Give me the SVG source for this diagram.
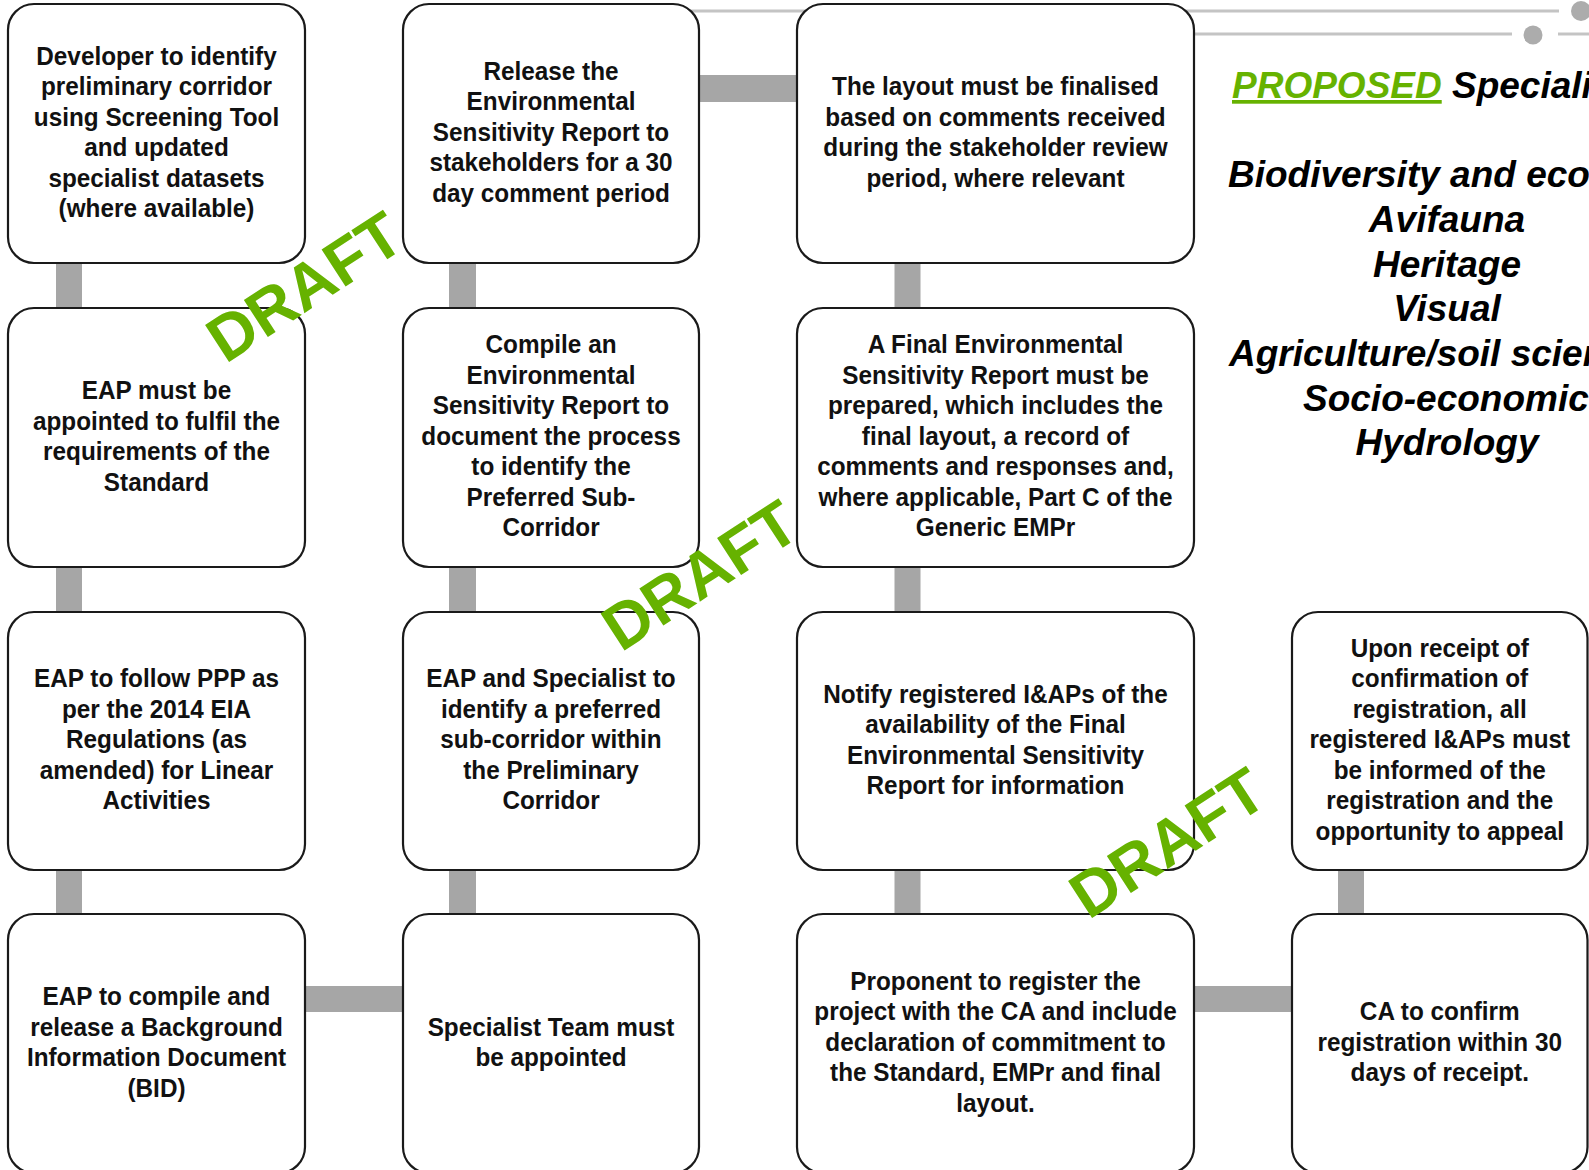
<svg xmlns="http://www.w3.org/2000/svg" width="1589" height="1170" viewBox="0 0 1589 1170">
<style>
.box{fill:#fff;stroke:#1a1a1a;stroke-width:2.2}
.t{font-family:"Liberation Sans",Arial,sans-serif;font-weight:bold;font-size:25.6px;fill:#111;text-anchor:middle}
.conn{stroke:#a6a6a6;fill:none}
.deco{stroke:#c4c4c4;stroke-width:3;fill:none}
.dot{fill:#acacac}
.draft{font-family:"Liberation Sans",Arial,sans-serif;font-weight:bold;font-size:64px;fill:#66b200;text-anchor:middle}
.hd{font-family:"Liberation Sans",Arial,sans-serif;font-weight:bold;font-style:italic;font-size:37px;fill:#000}
</style>
<rect width="1589" height="1170" fill="#fff"/>
<g id="decoration">
<line class="deco" x1="600" y1="11" x2="1559" y2="11"/>
<circle class="dot" cx="1581" cy="11" r="10"/>
<line class="deco" x1="1150" y1="34" x2="1512" y2="34"/>
<circle class="dot" cx="1533" cy="35" r="9.5"/>
<line class="deco" x1="1558" y1="34" x2="1589" y2="34"/>
</g>
<g id="connectors">
<line class="conn" stroke-width="26" x1="69" y1="250" x2="69" y2="320"/>
<line class="conn" stroke-width="26" x1="69" y1="555" x2="69" y2="625"/>
<line class="conn" stroke-width="26" x1="69" y1="858" x2="69" y2="926"/>
<line class="conn" stroke-width="27" x1="462.5" y1="250" x2="462.5" y2="320"/>
<line class="conn" stroke-width="27" x1="462.5" y1="555" x2="462.5" y2="625"/>
<line class="conn" stroke-width="27" x1="462.5" y1="858" x2="462.5" y2="926"/>
<line class="conn" stroke-width="26" x1="907.5" y1="250" x2="907.5" y2="320"/>
<line class="conn" stroke-width="26" x1="907.5" y1="555" x2="907.5" y2="625"/>
<line class="conn" stroke-width="26" x1="907.5" y1="858" x2="907.5" y2="926"/>
<line class="conn" stroke-width="26" x1="1351" y1="858" x2="1351" y2="926"/>
<line class="conn" stroke-width="26" x1="295" y1="999" x2="413" y2="999"/>
<line class="conn" stroke-width="27" x1="689" y1="88.5" x2="807" y2="88.5"/>
<line class="conn" stroke-width="26" x1="1184" y1="999" x2="1302" y2="999"/>
</g>
<g id="n-c1r1"><rect class="box" x="8" y="4" width="297" height="259" rx="26"/>
<g transform="translate(156.5 -1.5) scale(0.95 1)"><text class="t" y="66.1"><tspan x="0">Developer to identify</tspan><tspan x="0" dy="30.5">preliminary corridor</tspan><tspan x="0" dy="30.5">using Screening Tool</tspan><tspan x="0" dy="30.5">and updated</tspan><tspan x="0" dy="30.5">specialist datasets</tspan><tspan x="0" dy="30.5">(where available)</tspan></text></g></g>
<g id="n-c1r2"><rect class="box" x="8" y="308" width="297" height="259" rx="26"/>
<g transform="translate(156.5 -1.5) scale(0.95 1)"><text class="t" y="400.6"><tspan x="0">EAP must be</tspan><tspan x="0" dy="30.5">appointed to fulfil the</tspan><tspan x="0" dy="30.5">requirements of the</tspan><tspan x="0" dy="30.5">Standard</tspan></text></g></g>
<g id="n-c1r3"><rect class="box" x="8" y="612" width="297" height="258" rx="26"/>
<g transform="translate(156.5 -1.5) scale(0.95 1)"><text class="t" y="688.85"><tspan x="0">EAP to follow PPP as</tspan><tspan x="0" dy="30.5">per the 2014 EIA</tspan><tspan x="0" dy="30.5">Regulations (as</tspan><tspan x="0" dy="30.5">amended) for Linear</tspan><tspan x="0" dy="30.5">Activities</tspan></text></g></g>
<g id="n-c1r4"><rect class="box" x="8" y="914" width="297" height="259" rx="26"/>
<g transform="translate(156.5 -1.5) scale(0.95 1)"><text class="t" y="1006.6"><tspan x="0">EAP to compile and</tspan><tspan x="0" dy="30.5">release a Background</tspan><tspan x="0" dy="30.5">Information Document</tspan><tspan x="0" dy="30.5">(BID)</tspan></text></g></g>
<g id="n-c2r1"><rect class="box" x="403" y="4" width="296" height="259" rx="26"/>
<g transform="translate(551 -1.5) scale(0.95 1)"><text class="t" y="81.35"><tspan x="0">Release the</tspan><tspan x="0" dy="30.5">Environmental</tspan><tspan x="0" dy="30.5">Sensitivity Report to</tspan><tspan x="0" dy="30.5">stakeholders for a 30</tspan><tspan x="0" dy="30.5">day comment period</tspan></text></g></g>
<g id="n-c2r2"><rect class="box" x="403" y="308" width="296" height="259" rx="26"/>
<g transform="translate(551 -1.5) scale(0.95 1)"><text class="t" y="354.85"><tspan x="0">Compile an</tspan><tspan x="0" dy="30.5">Environmental</tspan><tspan x="0" dy="30.5">Sensitivity Report to</tspan><tspan x="0" dy="30.5">document the process</tspan><tspan x="0" dy="30.5">to identify the</tspan><tspan x="0" dy="30.5">Preferred Sub-</tspan><tspan x="0" dy="30.5">Corridor</tspan></text></g></g>
<g id="n-c2r3"><rect class="box" x="403" y="612" width="296" height="258" rx="26"/>
<g transform="translate(551 -1.5) scale(0.95 1)"><text class="t" y="688.85"><tspan x="0">EAP and Specialist to</tspan><tspan x="0" dy="30.5">identify a preferred</tspan><tspan x="0" dy="30.5">sub-corridor within</tspan><tspan x="0" dy="30.5">the Preliminary</tspan><tspan x="0" dy="30.5">Corridor</tspan></text></g></g>
<g id="n-c2r4"><rect class="box" x="403" y="914" width="296" height="259" rx="26"/>
<g transform="translate(551 -1.5) scale(0.95 1)"><text class="t" y="1037.1"><tspan x="0">Specialist Team must</tspan><tspan x="0" dy="30.5">be appointed</tspan></text></g></g>
<g id="n-c3r1"><rect class="box" x="797" y="4" width="397" height="259" rx="26"/>
<g transform="translate(995.5 -1.5) scale(0.95 1)"><text class="t" y="96.6"><tspan x="0">The layout must be finalised</tspan><tspan x="0" dy="30.5">based on comments received</tspan><tspan x="0" dy="30.5">during the stakeholder review</tspan><tspan x="0" dy="30.5">period, where relevant</tspan></text></g></g>
<g id="n-c3r2"><rect class="box" x="797" y="308" width="397" height="259" rx="26"/>
<g transform="translate(995.5 -1.5) scale(0.95 1)"><text class="t" y="354.85"><tspan x="0">A Final Environmental</tspan><tspan x="0" dy="30.5">Sensitivity Report must be</tspan><tspan x="0" dy="30.5">prepared, which includes the</tspan><tspan x="0" dy="30.5">final layout, a record of</tspan><tspan x="0" dy="30.5">comments and responses and,</tspan><tspan x="0" dy="30.5">where applicable, Part C of the</tspan><tspan x="0" dy="30.5">Generic EMPr</tspan></text></g></g>
<g id="n-c3r3"><rect class="box" x="797" y="612" width="397" height="258" rx="26"/>
<g transform="translate(995.5 -1.5) scale(0.95 1)"><text class="t" y="704.1"><tspan x="0">Notify registered I&amp;APs of the</tspan><tspan x="0" dy="30.5">availability of the Final</tspan><tspan x="0" dy="30.5">Environmental Sensitivity</tspan><tspan x="0" dy="30.5">Report for information</tspan></text></g></g>
<g id="n-c3r4"><rect class="box" x="797" y="914" width="397" height="259" rx="26"/>
<g transform="translate(995.5 -1.5) scale(0.95 1)"><text class="t" y="991.35"><tspan x="0">Proponent to register the</tspan><tspan x="0" dy="30.5">project with the CA and include</tspan><tspan x="0" dy="30.5">declaration of commitment to</tspan><tspan x="0" dy="30.5">the Standard, EMPr and final</tspan><tspan x="0" dy="30.5">layout.</tspan></text></g></g>
<g id="n-c4r3"><rect class="box" x="1292" y="612" width="295.5" height="258" rx="26"/>
<g transform="translate(1439.75 -1.5) scale(0.95 1)"><text class="t" y="658.35"><tspan x="0">Upon receipt of</tspan><tspan x="0" dy="30.5">confirmation of</tspan><tspan x="0" dy="30.5">registration, all</tspan><tspan x="0" dy="30.5">registered I&amp;APs must</tspan><tspan x="0" dy="30.5">be informed of the</tspan><tspan x="0" dy="30.5">registration and the</tspan><tspan x="0" dy="30.5">opportunity to appeal</tspan></text></g></g>
<g id="n-c4r4"><rect class="box" x="1292" y="914" width="295.5" height="259" rx="26"/>
<g transform="translate(1439.75 -1.5) scale(0.95 1)"><text class="t" y="1021.85"><tspan x="0">CA to confirm</tspan><tspan x="0" dy="30.5">registration within 30</tspan><tspan x="0" dy="30.5">days of receipt.</tspan></text></g></g>
<g id="specialists">
<text class="hd" x="1232" y="98"><tspan fill="#66b200" text-decoration="underline">PROPOSED</tspan> Specialist</text>
<text class="hd" x="1228" y="187">Biodiversity and ecology</text>
<text class="hd" x="1447" y="232" text-anchor="middle">Avifauna</text>
<text class="hd" x="1447" y="277" text-anchor="middle">Heritage</text>
<text class="hd" x="1447" y="321" text-anchor="middle">Visual</text>
<text class="hd" x="1229" y="366">Agriculture/soil science</text>
<text class="hd" x="1303" y="411">Socio-economic</text>
<text class="hd" x="1447" y="455" text-anchor="middle">Hydrology</text>
</g>
<g id="watermarks">
<text class="draft" transform="translate(304 286) rotate(-33)" x="0" y="23">DRAFT</text>
<text class="draft" transform="translate(699.5 574.5) rotate(-33)" x="0" y="23">DRAFT</text>
<text class="draft" transform="translate(1167 842) rotate(-33)" x="0" y="23">DRAFT</text>
</g>
</svg>
